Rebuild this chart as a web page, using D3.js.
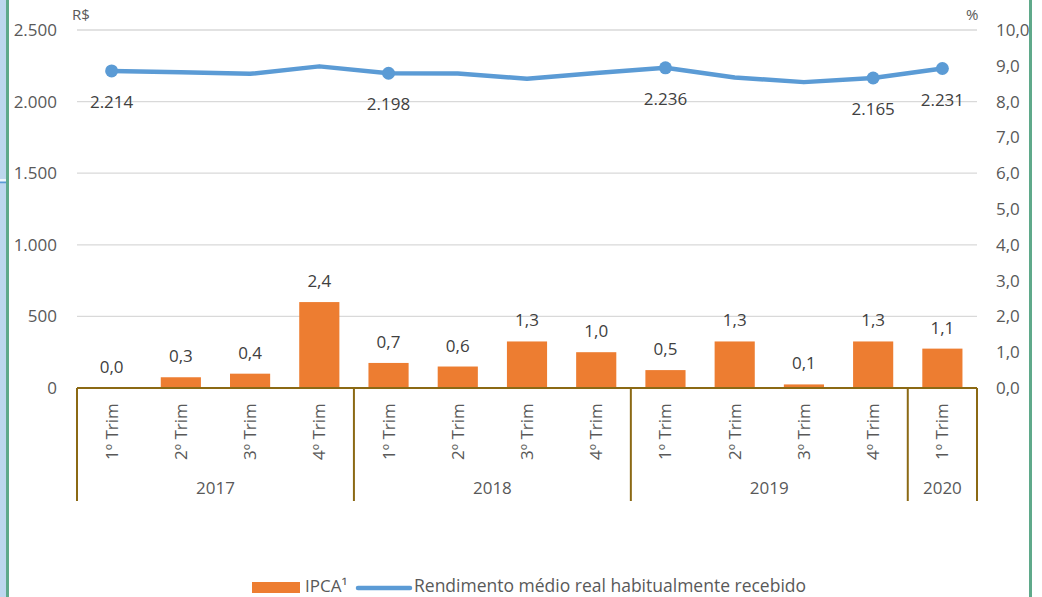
<!DOCTYPE html>
<html><head><meta charset="utf-8">
<script src="https://cdn.jsdelivr.net/npm/d3@7"></script>
<style>
html,body{margin:0;padding:0;background:#fff;}
svg{display:block;font-family:"Open Sans",sans-serif;}
</style></head>
<body>
<svg id="c" width="1042" height="597"></svg>
<script>
const quarters = ["1º Trim","2º Trim","3º Trim","4º Trim","1º Trim","2º Trim","3º Trim","4º Trim","1º Trim","2º Trim","3º Trim","4º Trim","1º Trim"];
const years = ["2017","2018","2019","2020"];
const yearCounts = [4,4,4,1];
const ipca = [0.0,0.3,0.4,2.4,0.7,0.6,1.3,1.0,0.5,1.3,0.1,1.3,1.1];
const rendimento = [2214,2205,2194,2246,2198,2196,2160,2200,2236,2168,2136,2165,2231];
const markerShown = [true,false,false,false,true,false,false,false,true,false,false,true,true];
const leftTicks = [0,500,1000,1500,2000,2500];
const rightTicks = [0,1,2,3,4,5,6,7,8,9,10];
const legendLabels = ["IPCA¹","Rendimento médio real habitualmente recebido"];

const loc = d3.formatLocale({decimal:",",thousands:".",grouping:[3],currency:["R$",""]});
const fmtLeft = loc.format(",.0f");
const fmtRight = loc.format(".1f");

const svg = d3.select("#c");
const L = 77, R = 977, T = 30, B = 388;
const idx = quarters.map((d,i)=>i);
const x = d3.scaleBand().domain(idx).range([L,R]).paddingInner(0.42).paddingOuter(0.21);
const xStep = x.step();
const yL = d3.scaleLinear().domain([0,2500]).range([B,T]);
const yR = d3.scaleLinear().domain([0,10]).range([B,T]);

// frame decorations
svg.append("rect").attr("x",0).attr("y",0).attr("width",6).attr("height",597).attr("fill","#bdd7ee");
svg.append("line").attr("x1",0).attr("x2",6).attr("y1",180).attr("y2",180).attr("stroke","#fff").attr("stroke-width",1.5);
svg.append("line").attr("x1",0).attr("x2",6).attr("y1",182.5).attr("y2",182.5).attr("stroke","#5b9bd5").attr("stroke-width",1.5);
svg.append("rect").attr("x",6).attr("y",0).attr("width",3).attr("height",597).attr("fill","#5fa98a");
svg.append("rect").attr("x",1029).attr("y",0).attr("width",3).attr("height",597).attr("fill","#5fa98a");

// gridlines
svg.append("g").selectAll("line").data(leftTicks.filter(d=>d>0)).join("line")
  .attr("x1",L).attr("x2",R).attr("y1",d=>yL(d)).attr("y2",d=>yL(d))
  .attr("stroke","#d9d9d9").attr("stroke-width",1.3);

// axes labels
const axL = d3.axisLeft(yL).tickValues(leftTicks).tickFormat(fmtLeft).tickSize(0).tickPadding(20);
const gL = svg.append("g").attr("transform",`translate(${L},0)`).call(axL);
gL.select(".domain").remove();
gL.selectAll("text").attr("font-size",17).attr("fill","#595959").attr("font-family","Open Sans");

const axR = d3.axisRight(yR).tickValues(rightTicks).tickFormat(fmtRight).tickSize(0).tickPadding(19);
const gR = svg.append("g").attr("transform",`translate(${R},0)`).call(axR);
gR.select(".domain").remove();
gR.selectAll("text").attr("font-size",17).attr("fill","#595959").attr("font-family","Open Sans");

svg.append("text").attr("x",72).attr("y",20).attr("font-size",15).attr("fill","#595959").text("R$");
svg.append("text").attr("x",966).attr("y",20).attr("font-size",15).attr("fill","#595959").text("%");

// bars
svg.append("g").selectAll("rect").data(ipca).join("rect")
  .attr("x",(d,i)=>x(i)).attr("width",x.bandwidth())
  .attr("y",d=>yR(d)).attr("height",d=>B-yR(d)).attr("fill","#ed7d31");

svg.append("g").selectAll("text").data(ipca).join("text")
  .attr("x",(d,i)=>x(i)+x.bandwidth()/2).attr("y",d=>yR(d)-15)
  .attr("text-anchor","middle").attr("font-size",17).attr("fill","#404040")
  .text(d=>fmtRight(d));

// category axis
const axisCol = "#8b6914";
svg.append("line").attr("x1",L).attr("x2",R).attr("y1",B).attr("y2",B).attr("stroke",axisCol).attr("stroke-width",2);
let cum = 0;
const bounds = [0];
yearCounts.forEach(c=>{cum+=c; bounds.push(cum);});
svg.append("g").selectAll("line").data(bounds).join("line")
  .attr("x1",d=>L+d*xStep).attr("x2",d=>L+d*xStep).attr("y1",B).attr("y2",501)
  .attr("stroke",axisCol).attr("stroke-width",2);

svg.append("g").selectAll("text").data(quarters).join("text")
  .attr("transform",(d,i)=>`translate(${x(i)+x.bandwidth()/2+6},460) rotate(-90)`)
  .attr("font-size",17).attr("fill","#595959").text(d=>d);

svg.append("g").selectAll("text").data(years).join("text")
  .attr("x",(d,i)=>L+(bounds[i]+bounds[i+1])/2*xStep).attr("y",494)
  .attr("text-anchor","middle").attr("font-size",17).attr("fill","#595959").text(d=>d);

// line
const line = d3.line().x((d,i)=>x(i)+x.bandwidth()/2).y(d=>yL(d));
svg.append("path").datum(rendimento).attr("d",line).attr("fill","none")
  .attr("stroke","#5b9bd5").attr("stroke-width",4.5).attr("stroke-linejoin","round");
const pts = rendimento.map((v,i)=>({v,i})).filter(d=>markerShown[d.i]);
svg.append("g").selectAll("circle").data(pts).join("circle")
  .attr("cx",d=>x(d.i)+x.bandwidth()/2).attr("cy",d=>yL(d.v)).attr("r",6.5).attr("fill","#5b9bd5");
svg.append("g").selectAll("text").data(pts).join("text")
  .attr("x",d=>x(d.i)+x.bandwidth()/2).attr("y",d=>yL(d.v)+37)
  .attr("text-anchor","middle").attr("font-size",17).attr("fill","#404040").text(d=>fmtLeft(d.v));

// legend
const lg = svg.append("g");
lg.append("rect").attr("x",252).attr("y",582).attr("width",48).attr("height",11).attr("fill","#ed7d31");
lg.append("text").attr("x",305).attr("y",592).attr("font-size",17).attr("fill","#595959").text(legendLabels[0]);
lg.append("line").attr("x1",358).attr("x2",410).attr("y1",588).attr("y2",588).attr("stroke","#5b9bd5").attr("stroke-width",4.5).attr("stroke-linecap","round");
lg.append("text").attr("x",414).attr("y",592).attr("font-size",17.5).attr("fill","#595959").text(legendLabels[1]);
</script>
</body></html>
